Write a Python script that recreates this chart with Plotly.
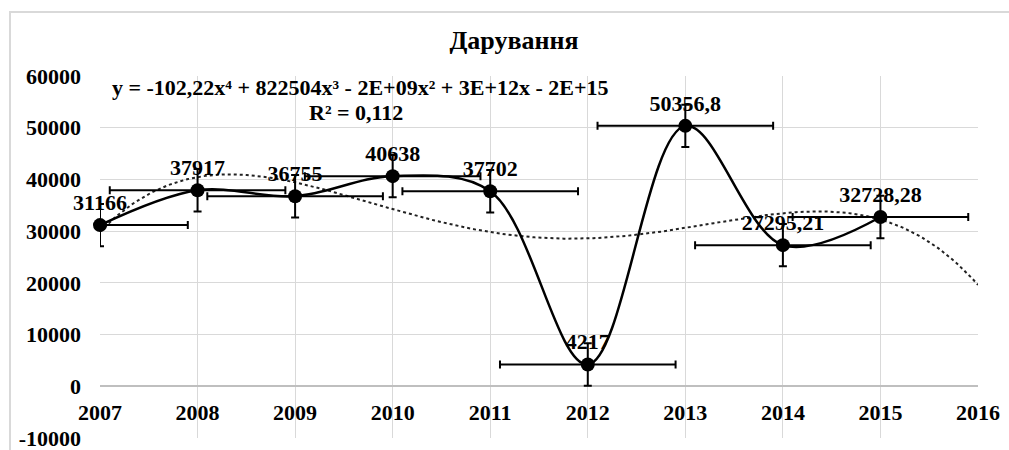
import numpy as np
import plotly.graph_objects as go

years = [2007, 2008, 2009, 2010, 2011, 2012, 2013, 2014, 2015]
values = [31166, 37917, 36755, 40638, 37702, 4217, 50356.8, 27295.21, 32728.28]
labels = ["31166", "37917", "36755", "40638", "37702", "4217", "50356,8", "27295,21", "32728,28"]
err_y = [4100] * 9
err_x = [0.9] * 9
title_text = "Дарування"
equation = "y = -102,22x⁴ + 822504x³ - 2E+09x² + 3E+12x - 2E+15"
r2_text = "R² = 0,112"
x_ticks = list(range(2007, 2017))
y_ticks = list(range(-10000, 60001, 10000))
y_tick_text = ["-10000", "0", "10000", "20000", "30000", "40000", "50000", "60000"]

# polynomial (order 4) trendline fitted to the data, forecast forward to 2016
u = np.array(years, dtype=float) - 2011
coef = np.polyfit(u, np.array(values), 4)
tx = np.linspace(2007, 2016, 300)
ty = np.polyval(coef, tx - 2011)

FONT = "Liberation Serif"
FS = 22

fig = go.Figure()
fig.add_trace(go.Scatter(
    x=tx, y=ty, mode="lines",
    line=dict(color="#222222", width=2, dash="dot"),
    hoverinfo="skip", showlegend=False,
))
fig.add_trace(go.Scatter(
    x=years, y=values, mode="lines",
    line=dict(color="black", width=2.5, shape="spline", smoothing=1),
    error_y=dict(type="data", array=err_y, color="black", thickness=2, width=4),
    error_x=dict(type="data", array=err_x, color="black", thickness=2, width=4),
    showlegend=False,
))
fig.add_trace(go.Scatter(
    x=years, y=values, mode="markers+text",
    marker=dict(color="black", size=14),
    text=labels, textposition="top center",
    textfont=dict(family=FONT, size=FS, color="black", weight="bold"),
    cliponaxis=False, showlegend=False,
))

fig.update_layout(
    width=1009, height=450,
    margin=dict(l=100, r=31, t=76, b=12),
    paper_bgcolor="white", plot_bgcolor="white",
    font=dict(family=FONT, size=FS, color="black", weight="bold"),
    title=dict(text=title_text, x=514 / 1009, xanchor="center", y=1 - 40 / 450, yanchor="middle",
               font=dict(family=FONT, size=26, color="black", weight="bold")),
    xaxis=dict(range=[2007, 2016], tickvals=x_ticks, showgrid=True, gridcolor="#d9d9d9", gridwidth=1,
               zeroline=False, showline=False, anchor="free", position=1 / 7, automargin=False,
               ticks="", ticklabelstandoff=11, ticklabeloverflow="allow",
               tickfont=dict(family=FONT, size=FS, color="black", weight="bold")),
    yaxis=dict(range=[-10000, 60000], tickvals=y_ticks, ticktext=y_tick_text, automargin=False,
               showgrid=True, gridcolor="#d9d9d9", gridwidth=1,
               zeroline=True, zerolinecolor="#bfbfbf", zerolinewidth=1.5,
               ticks="", ticklabelstandoff=18, ticklabeloverflow="allow",
               tickfont=dict(family=FONT, size=FS, color="black", weight="bold")),
    annotations=[
        dict(text=equation, x=0.0114, y=0.967, xref="paper", yref="paper", xanchor="left", yanchor="middle",
             showarrow=False, font=dict(family=FONT, size=FS, color="black", weight="bold")),
        dict(text=r2_text, x=0.2916, y=0.898, xref="paper", yref="paper", xanchor="center", yanchor="middle",
             showarrow=False, font=dict(family=FONT, size=FS, color="black", weight="bold")),
    ],
    shapes=[dict(type="rect", xref="paper", yref="paper", x0=-0.1025, x1=1.05, y0=-0.08, y1=1.1768,
                 line=dict(color="#d9d9d9", width=2), fillcolor="rgba(0,0,0,0)", layer="below")],
)
fig.write_html("out.html", config={"displayModeBar": False},
               post_script="document.body.style.margin='0px';")
